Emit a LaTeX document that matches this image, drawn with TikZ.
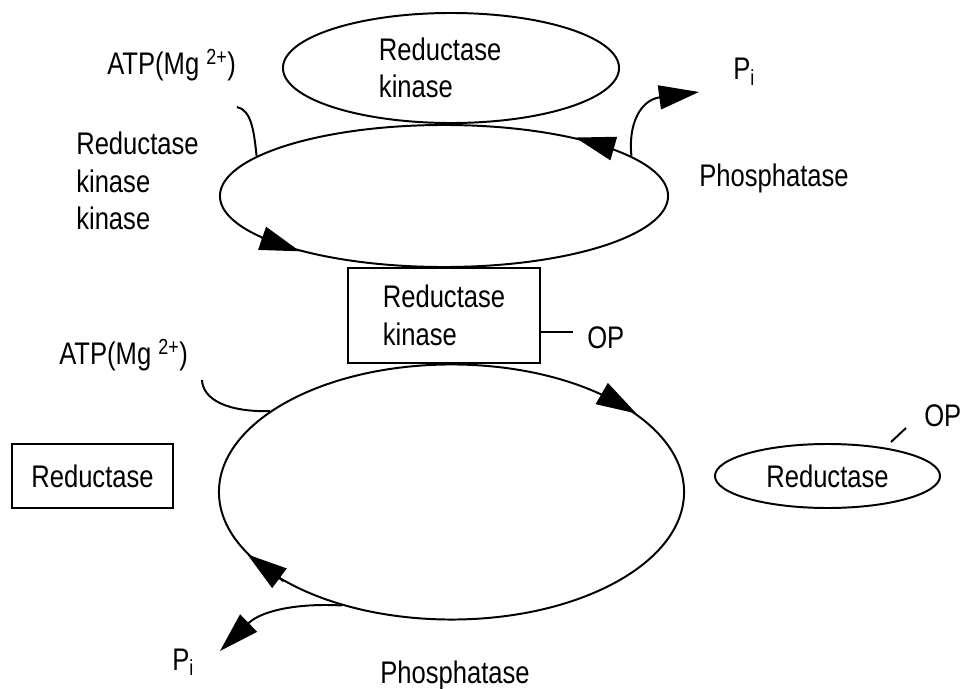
\documentclass[tikz,border=0pt]{standalone}
\usepackage{fontspec}
\setmainfont{Liberation Sans}[FakeStretch=0.82]
\usetikzlibrary{arrows.meta,shapes.geometric}
\tikzset{
  cyclenode/.style={draw,ellipse,line width=1.4pt,inner sep=0pt},
  boxnode/.style={draw,rectangle,line width=1.4pt,inner sep=0pt,align=left},
  txt/.style={inner sep=0pt,anchor=base west},
  bond/.style={line width=1.4pt},
  fwd/.style={line width=1.4pt,-{Triangle[length=1cm,width=0.6cm]}}
}

\begin{document}
\begin{tikzpicture}[x=0.025cm,y=-0.025cm,font=\fontsize{22.2}{26.7}\selectfont]
  \useasboundingbox (0,0) rectangle (962,689);

  % upper cycle
  \node[cyclenode,minimum width=8.4cm,minimum height=2.75cm,text width=3.6cm,align=left] (rkin) at (451,68) {Reductase\\kinase};
  \node[cyclenode,minimum width=11.2cm,minimum height=3.55cm] (mid) at (444,196) {};
  \node[txt] (atpa) at (107,75) {ATP(Mg \textsuperscript{2+})};
  \node[txt,anchor=west,align=left] (rkk) at (76,181) {Reductase\\kinase\\kinase};
  \node[txt] (pia) at (733,80) {P\textsubscript{i}};
  \node[txt] (phosa) at (699,187) {Phosphatase};
  \coordinate (atpina) at (237,107);
  \coordinate (pitipa) at (699,92);

  \draw[bond] (atpina) .. controls (251,110) and (254,130) .. (mid.168);
  \draw[fwd] (mid.16) -- (mid.24);
  \draw[fwd] (mid.193) -- (mid.201);
  \draw[fwd] (mid.12) .. controls (628,125) and (640,100) .. (pitipa);

  % phosphorylated kinase
  \node[boxnode,minimum width=4.8cm,minimum height=2.375cm] (rk) at (444,315.5) {Reductase\\kinase};
  \node[txt] (opa) at (587,348) {OP};
  \coordinate (opbond) at (573,332);
  \draw[bond] (rk.east |- opbond) -- (opbond);

  % lower cycle
  \node[cyclenode,minimum width=11.625cm,minimum height=6.375cm] (bot) at (451.5,492) {};
  \node[txt] (atpb) at (59,365) {ATP(Mg \textsuperscript{2+})};
  \node[boxnode,minimum width=4.025cm,minimum height=1.6cm,align=center] (red) at (92.5,476) {Reductase};
  \node[cyclenode,minimum width=5.625cm,minimum height=1.6cm] (redp) at (827.5,476) {Reductase};
  \node[txt] (opb) at (924,426) {OP};
  \node[txt] (pib) at (172,670) {P\textsubscript{i}};
  \node[txt] (phosb) at (380,683) {Phosphatase};
  \coordinate (atpinb) at (202,380);
  \coordinate (pitipb) at (220,651);
  \coordinate (optick) at (891,442);

  \draw[bond] (atpinb) .. controls (203,400) and (228,412) .. (bot.156);
  \draw[fwd] (bot.33) -- (bot.23);
  \draw[fwd] (bot.208) -- (bot.197);
  \draw[fwd] (bot.226) .. controls (300,603) and (262,610) .. (pitipb);
  \draw[bond] (optick) -- ++(15,-14);
\end{tikzpicture}
\end{document}
